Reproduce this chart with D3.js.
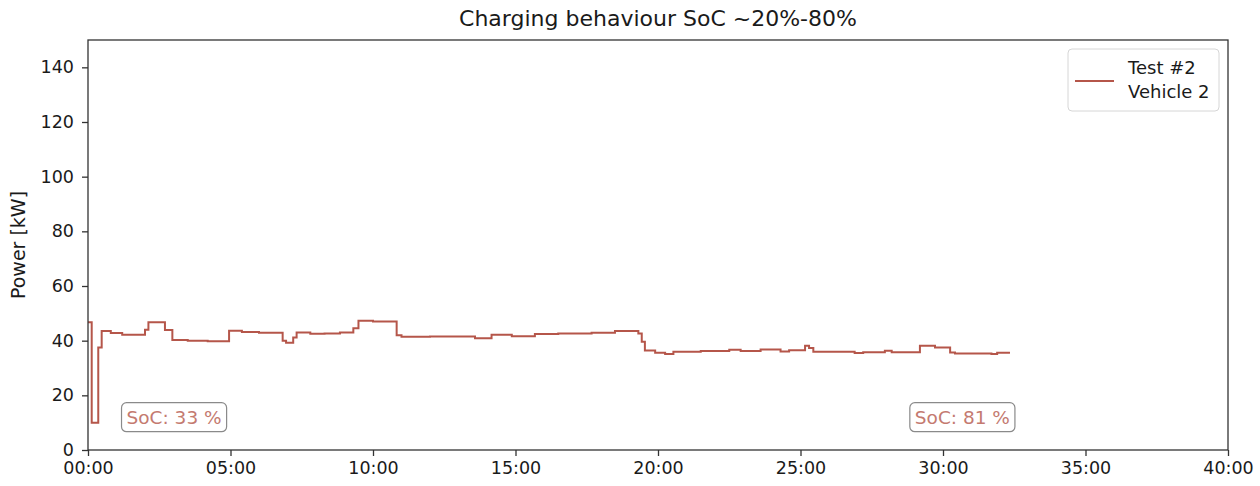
<!DOCTYPE html>
<html>
<head>
<meta charset="utf-8">
<script src="https://cdn.jsdelivr.net/npm/d3@7/dist/d3.min.js"></script>
<style>
  html, body { margin: 0; padding: 0; background: #ffffff; }
  svg { display: block; font-family: "DejaVu Sans", sans-serif; }
</style>
</head>
<body>
<svg id="chart" width="1260" height="486"></svg>
<script>
// ---- data ----
const chartTitle = "Charging behaviour SoC ~20%-80%";
const yLabel = "Power [kW]";
const seriesName = ["Test #2", "Vehicle 2"];
// time in minutes since start of charging
const timeMin = [0, 0.13, 0.36, 0.48, 0.8, 1.2, 2.0, 2.12, 2.7, 2.96, 3.5, 4.2, 4.95, 5.4, 6.0,
  6.83, 6.95, 7.2, 7.32, 7.8, 8.3, 8.84, 9.31, 9.49, 10.0, 10.83, 11.0, 12.0, 13.58, 14.16,
  14.87, 15.68, 16.5, 17.67, 18.49, 19.31, 19.43, 19.54, 19.9, 20.25, 20.54, 21.5, 22.5, 22.9,
  23.6, 24.3, 24.6, 25.16, 25.3, 25.45, 26.9, 27.2, 27.96, 28.2, 29.19, 29.72, 30.25, 30.42,
  31.7, 31.9, 32.35];
// charging power in kW
const powerKW = [46.7, 10, 37.5, 43.5, 42.8, 42.2, 44, 46.7, 43.9, 40.2, 40.0, 39.8, 43.6, 43.2, 42.9,
  40.0, 39.2, 41.2, 43.0, 42.5, 42.6, 43.0, 44.5, 47.3, 47.0, 42.0, 41.4, 41.5, 40.9, 42.2,
  41.6, 42.4, 42.6, 42.9, 43.5, 42.6, 39.6, 36.4, 35.6, 35.1, 35.9, 36.2, 36.7, 36.2,
  36.8, 36.0, 36.5, 38.1, 37.3, 35.9, 35.5, 35.8, 36.3, 35.8, 38.1, 37.5, 35.7, 35.3,
  35.1, 35.6, 35.6];
const xTickValues = [0, 5, 10, 15, 20, 25, 30, 35, 40];
const xTickLabels = ["00:00", "05:00", "10:00", "15:00", "20:00", "25:00", "30:00", "35:00", "40:00"];
const yTickValues = [0, 20, 40, 60, 80, 100, 120, 140];
const socTexts = ["SoC: 33 %", "SoC: 81 %"];
const socTimes = [3.02, 30.68];
const socPower = [12, 12];

// ---- layout ----
const svg = d3.select("#chart");
const margin = { left: 88, right: 32, top: 40, bottom: 36 };
const W = 1260, H = 486;
const lineColor = "#b5564a";

const x = d3.scaleLinear().domain([0, 40]).range([margin.left, W - margin.right]);
const y = d3.scaleLinear().domain([0, 150]).range([H - margin.bottom, margin.top]);

const data = timeMin.map((t, i) => ({ t, v: powerKW[i] }));

// line
const line = d3.line().x(d => x(d.t)).y(d => y(d.v)).curve(d3.curveStepAfter);
svg.append("path")
  .datum(data)
  .attr("d", line)
  .attr("fill", "none")
  .attr("stroke", lineColor)
  .attr("stroke-width", 2)
  .attr("stroke-linejoin", "miter");

// axes
const fontSize = 17.5;
const xAxis = d3.axisBottom(x).tickValues(xTickValues)
  .tickFormat((d, i) => xTickLabels[i]).tickSize(6).tickPadding(6);
const yAxis = d3.axisLeft(y).tickValues(yTickValues).tickSize(6).tickPadding(8);

const gx = svg.append("g").attr("transform", `translate(0,${y(0)})`).call(xAxis);
const gy = svg.append("g").attr("transform", `translate(${x(0)},0)`).call(yAxis);
[gx, gy].forEach(g => {
  g.select(".domain").remove();
  g.selectAll(".tick line").attr("stroke", "#333").attr("stroke-width", 1.3);
  g.selectAll(".tick text").attr("fill", "#1a1a1a").style("font-size", fontSize + "px")
    .style("font-family", "DejaVu Sans, sans-serif");
});

// frame (spines)
svg.append("rect")
  .attr("x", x(0)).attr("y", y(150))
  .attr("width", x(40) - x(0)).attr("height", y(0) - y(150))
  .attr("fill", "none").attr("stroke", "#333").attr("stroke-width", 1.3);

// title
svg.append("text")
  .attr("x", (x(0) + x(40)) / 2).attr("y", 26)
  .attr("text-anchor", "middle")
  .style("font-size", "22px").attr("fill", "#1a1a1a")
  .text(chartTitle);

// y label
svg.append("text")
  .attr("transform", `translate(25,${(y(0) + y(150)) / 2}) rotate(-90)`)
  .attr("text-anchor", "middle")
  .style("font-size", "19px").attr("fill", "#1a1a1a")
  .text(yLabel);

// legend
const lg = svg.append("g");
lg.append("rect").attr("x", 1068).attr("y", 49).attr("width", 151).attr("height", 62)
  .attr("rx", 4).attr("fill", "#fff").attr("stroke", "#d6d6d6").attr("stroke-width", 1);
lg.append("line").attr("x1", 1075).attr("x2", 1114).attr("y1", 81).attr("y2", 81)
  .attr("stroke", lineColor).attr("stroke-width", 2);
seriesName.forEach((s, i) => {
  lg.append("text").attr("x", 1128).attr("y", 74 + i * 24)
    .style("font-size", "18px").attr("fill", "#1a1a1a").text(s);
});

// SoC annotations
socTexts.forEach((s, i) => {
  const g = svg.append("g");
  const t = g.append("text")
    .attr("x", x(socTimes[i])).attr("y", y(socPower[i]))
    .attr("text-anchor", "middle").attr("dominant-baseline", "central")
    .style("font-size", "18.5px").attr("fill", "#c47a70").text(s);
  const bb = t.node().getBBox();
  g.insert("rect", "text")
    .attr("x", bb.x - 5).attr("y", bb.y - 4)
    .attr("width", bb.width + 10).attr("height", bb.height + 8)
    .attr("rx", 5).attr("fill", "#fff").attr("stroke", "#8a8a8a").attr("stroke-width", 1.2);
});
</script>
</body>
</html>
